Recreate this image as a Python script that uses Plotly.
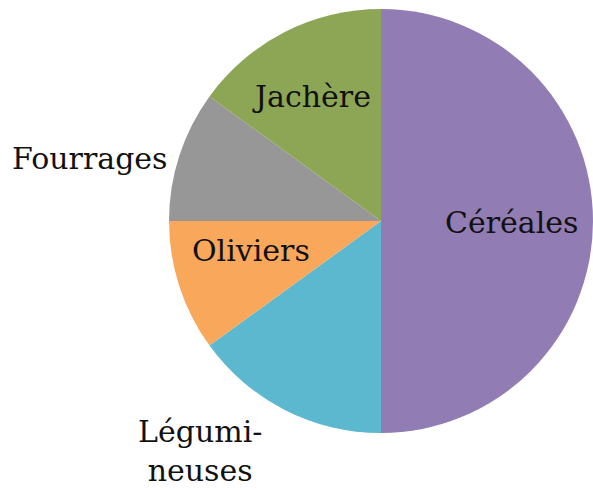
import plotly.graph_objects as go

# Répartition des surfaces agricoles (%)
categories = ["Céréales", "Légumi-<br>neuses", "Oliviers", "Fourrages", "Jachère"]
values = [50, 15, 10, 10, 15]
colors = ["#917CB3", "#5BB8CF", "#F9A75B", "#979797", "#8DA655"]

W, H = 593, 490
cx, cy, r = 381, 221, 212

fig = go.Figure(go.Pie(
    labels=categories,
    values=values,
    sort=False,
    direction="clockwise",
    rotation=0,
    marker=dict(colors=colors, line=dict(width=0)),
    textinfo="none",
    hoverinfo="label+percent",
    domain=dict(x=[(cx - r) / W, min(1, (cx + r) / W)],
                y=[(H - cy - r) / H, (H - cy + r) / H]),
    showlegend=False,
))

# label anchor points in pixels (x, y from top)
label_pos = [(511, 222), (200, 451), (251, 250), (89, 158), (311, 97)]
for name, (px, py) in zip(categories, label_pos):
    fig.add_annotation(
        x=px / W, y=1 - py / H, xref="paper", yref="paper",
        text=name, showarrow=False,
        font=dict(family="DejaVu Serif", size=30, color="#111111"),
        xanchor="center", yanchor="middle",
    )

fig.update_layout(
    width=W, height=H,
    margin=dict(l=0, r=0, t=0, b=0),
    paper_bgcolor="white",
    plot_bgcolor="white",
)

fig.write_html("out.html")
